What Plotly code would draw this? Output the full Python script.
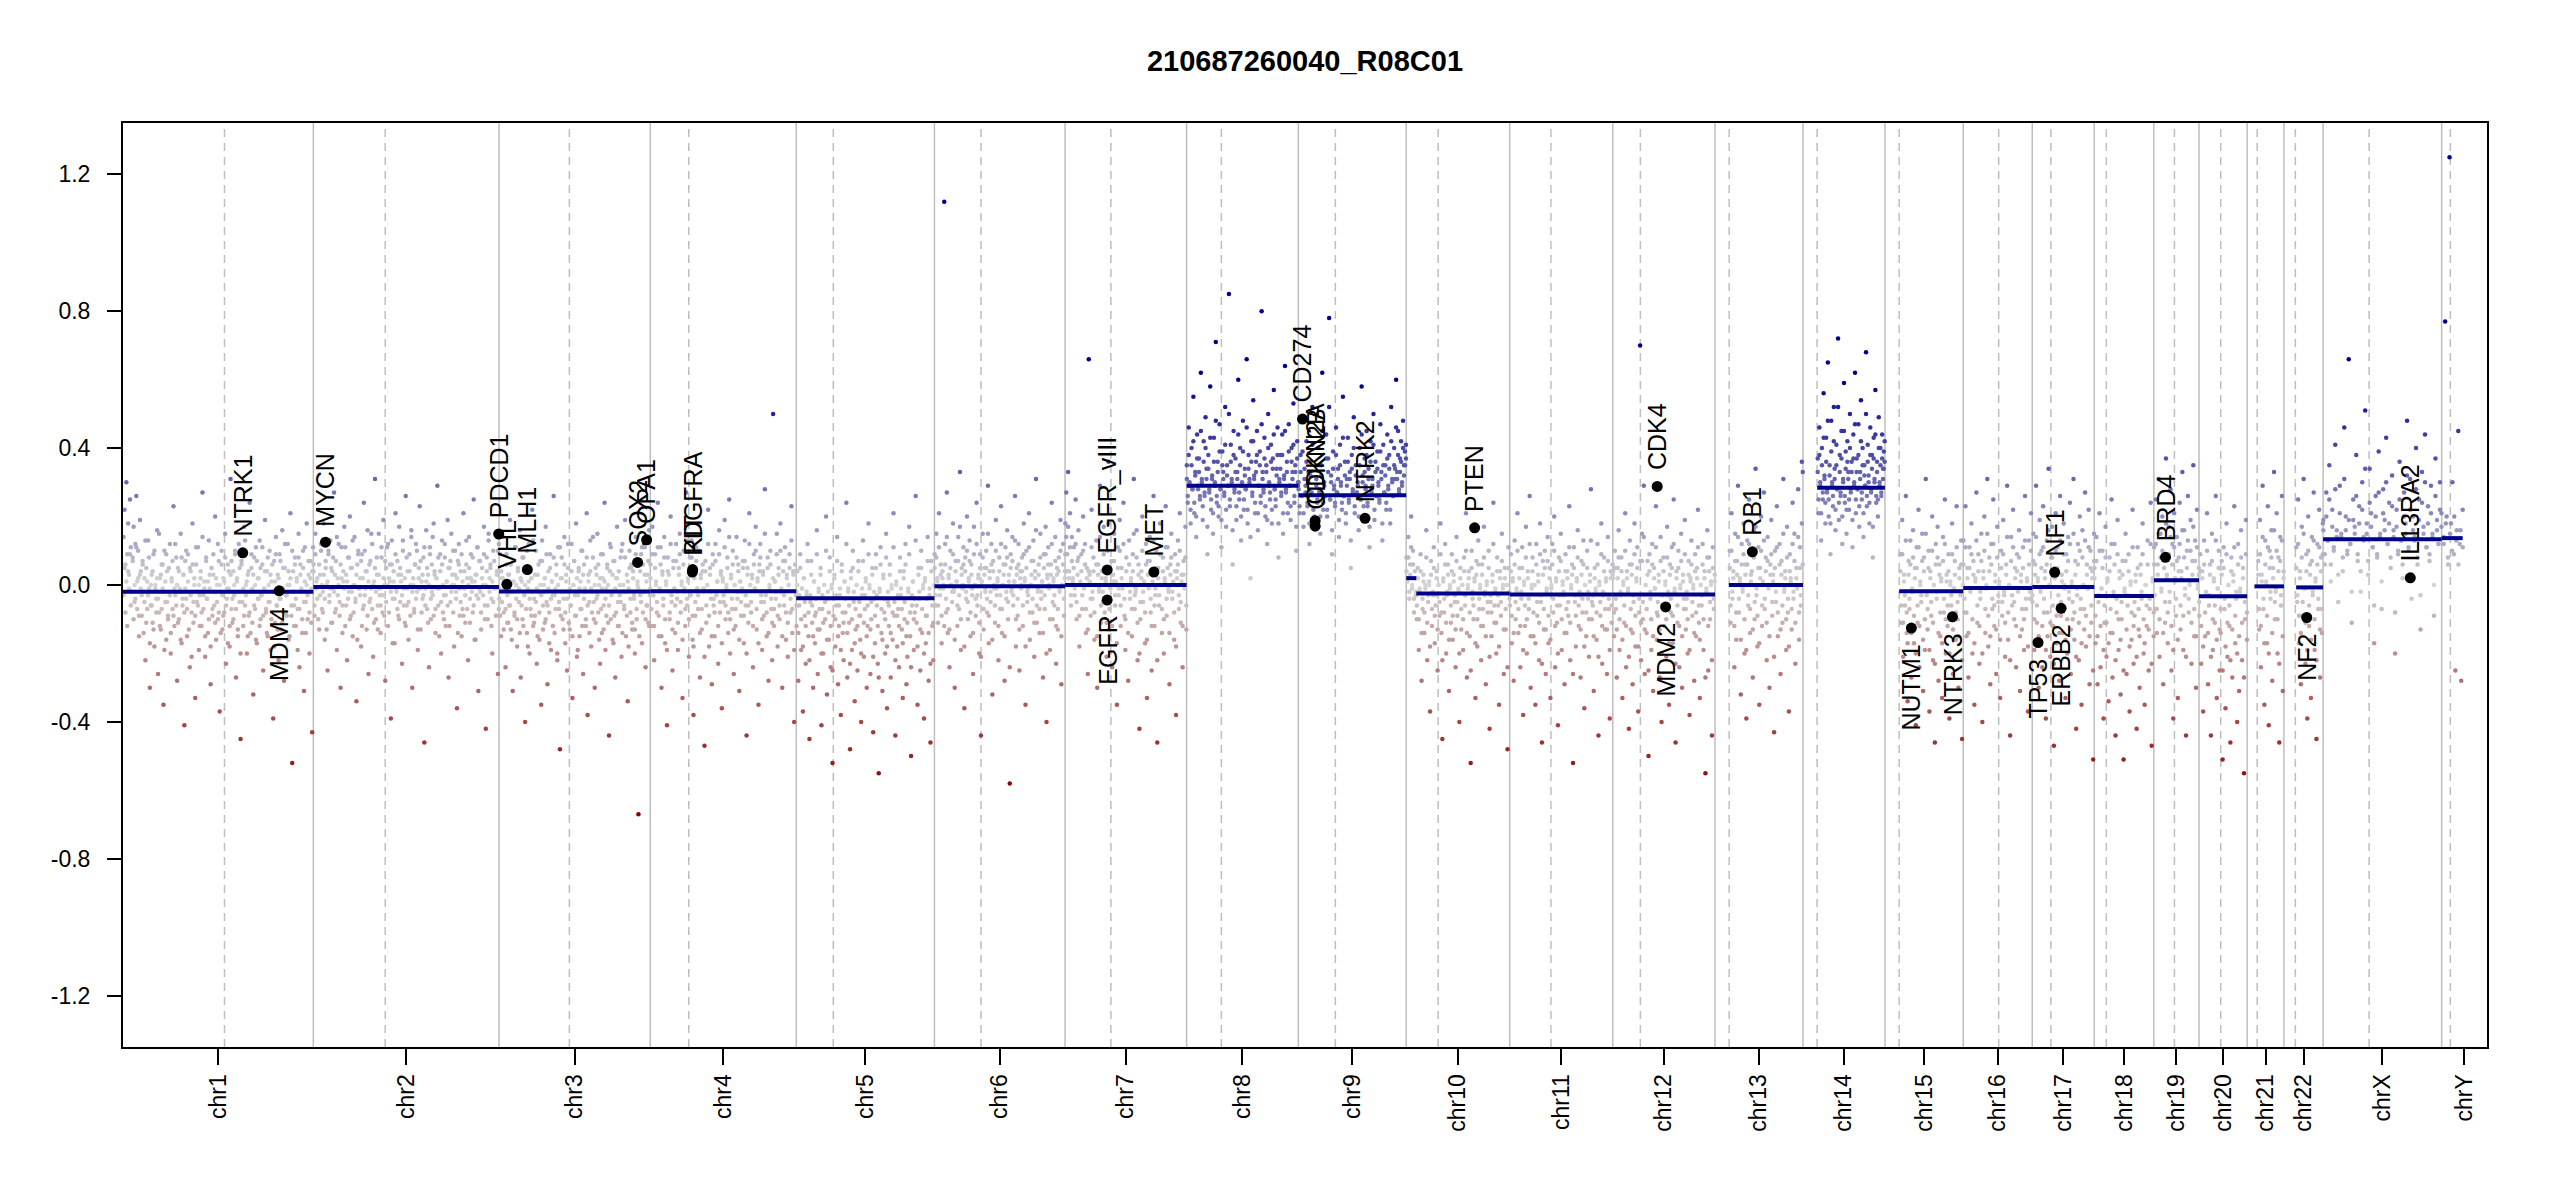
import numpy as np
import plotly.graph_objects as go

# Copy number plot of sample 210687260040_R08C01 (conumee-style genome plot)

chroms = ["chr1", "chr2", "chr3", "chr4", "chr5", "chr6", "chr7", "chr8", "chr9", "chr10",
          "chr11", "chr12", "chr13", "chr14", "chr15", "chr16", "chr17", "chr18", "chr19",
          "chr20", "chr21", "chr22", "chrX", "chrY"]

# chromosome lengths and centromere positions (Mb)
chrom_len = [249.25, 243.20, 198.02, 191.15, 180.92, 171.12, 159.14, 146.36, 141.21, 135.53,
             135.01, 133.85, 115.17, 107.35, 102.53, 90.35, 81.20, 78.08, 59.13,
             63.03, 48.13, 51.30, 155.27, 59.37]
centromere = [132.9, 94.1, 92.1, 50.4, 48.5, 61.0, 60.0, 45.5, 48.4, 41.8,
              54.0, 36.1, 18.5, 18.5, 18.6, 46.4, 24.4, 15.8, 26.9,
              28.4, 13.1, 15.0, 60.3, 11.4]

# region of each chromosome covered by bins (Mb)
bin_start = [0.8, 0.3, 0.3, 0.3, 0.3, 0.3, 0.3, 0.3, 0.3, 0.3,
             0.3, 0.3, 19.2, 19.3, 20.2, 0.3, 0.3, 0.3, 0.3,
             0.3, 14.5, 16.2, 0.3, 2.7]
bin_end = [248.9, 242.9, 197.7, 190.8, 180.6, 170.8, 158.8, 146.0, 140.9, 135.2,
           134.7, 133.5, 114.9, 107.0, 102.2, 90.0, 80.9, 77.8, 58.8,
           62.7, 47.8, 51.0, 155.0, 27.5]

# bin values (log2 ratio x 100), ordered along each chromosome -- wide spread bins
bins_chr1 = [14, 22, 6, 30, 9, 18, 3, 25, 11, -2, 8, 17, -5, 12, 26, 1, 10, -9, 19, 4,
             -3, 7, -14, 2, -22, 5, -7, 13, -1, -30, -6, 3, -11, 9, -18, 0, -4, 16, -26, -8,
             2, -13, 6, -1, -35, 10, -5, -16, 4, -9, -2, 12, -20, 1, -7, 23, -12, -3, 8, -28,
             5, -10, -1, 15, -17, -6, 3, -41, 7, -4, -15, 9, -2, -24, 4, -8, 18, -11, 0, -33,
             6, -5, 11, -19, -3, 2, -12, 27, -7, 1, -21, 8, -4, -14, 13, -1, -29, 5, -9, 3,
             -6, 20, -16, 0, -10, 7, -37, -2, 10, -13, 2, -8, 15, -23, -4, 6, -1, -18, 31, -7,
             -11, 4, -3, 9, -27, 1, -15, 12, -5, -45, 7, -2, -12, 17, -6, 0, -20, 3, -9, 24,
             -14, 5, -1, -32, 8, -7, 11, -17, 2, -4, 13, -10, -3, 6, -25, -1, 19, -8, 4, -15,
             -5, 10, -19, 1, -2, -39, 7, -11, 14, -6, 3, -22, 9, -4, -13, 16, -1, -28, 5, -8,
             -3, 12, -16, 0, 21, -9, -52, 4, -6, 8, -12, 2, -7, 15, -24, 6, -2, -14, 10, -31,
             1, -5, 18, -10, 3, -20, 7, -1, -43, 11]
bins_chr2 = [6, -9, 15, 1, -4, 22, -13, 3, 10, -7, -2, 18, -16, 5, 0, -25, 9, -3, 13, -11,
             4, -1, 27, -8, 7, -19, 2, 12, -5, -30, 11, -6, 1, 17, -12, 3, -22, 8, -2, 20,
             -9, 5, -15, 0, 14, -4, -34, 6, 10, -1, 2, -18, 9, -7, 24, -3, 4, -13, 16, -26,
             -5, 7, -1, 12, -21, 1, 31, -10, 3, -6, 15, -3, -14, 8, -8, 19, 0, -28, 5, 11,
             -12, 2, 6, -39, 13, -4, 1, -17, 21, -2, 7, -9, 17, -5, 3, -23, 10, -1, -11, 26,
             -6, 4, -16, 9, 0, 14, -30, 2, -8, 6, 12, -2, -19, 5, 23, -13, 1, -4, 8, -46,
             -1, 16, -7, 3, -24, 11, -10, 6, -3, 18, 4, -14, 2, 29, -6, -1, 9, -20, 13, -8,
             -3, 8, -12, 1, 19, -27, 5, -5, 15, 0, 10, -18, 3, -2, -36, 7, 12, -9, 4, -15,
             -7, 21, -1, -11, 6, 2, -22, 14, -4, 9, 1, -8, 25, -16, 3, -3, 11, -31, 7, -2,
             -13, 5, 0, 17, -6, -42, 8, -10, 13, 2, 6, -4, -20, 10, -1, 15, -9, 4, -26, 12]
bins_chr3 = [-4, 9, -15, 2, 14, -8, -1, -24, 6, -11, 3, -6, 19, -13, -2, -31, 7, -9, 11, 0,
             -18, 4, -5, 16, -27, 1, -10, 8, -3, -40, 5, -14, -1, 12, -20, -7, 2, 22, -12, -4,
             -9, 10, -23, 3, -2, -16, 7, -35, 13, -6, 0, -11, 17, -5, -29, 4, -8, 9, -19, 1,
             -3, 26, -14, -1, 6, -22, 11, -7, -48, 2, 8, -10, -4, 14, -17, 3, -25, 5, -2, -13,
             -6, 12, -33, 0, 7, -9, 18, -21, -3, 4, -15, 1, -7, 10, -26, 6, -1, -12, 21, -38,
             3, -5, 13, -18, -2, 8, -10, -30, 5, -4, 15, -8, 0, -23, 9, -14, 2, -6, 24, -19,
             -1, 6, -11, -44, 4, 11, -3, -16, 7, -9, -27, 2, 17, -5, -12, 0, 8, -21, 12, -2,
             -7, 19, -15, 3, -34, -1, 10, -8, 5, -13, 4, -4, -20, 14, -10, 1, -67, 7, -3, 9,
             -17, 6, -2, 11, -24, -6, 3, -11, 16, -1]
bins_chr4 = [6, -12, 17, -3, -22, 9, 1, -8, 24, -15, -2, 11, -30, 4, -6, 14, -17, 0, -41, 8,
             3, -10, 20, -5, -25, 7, -1, -14, 12, -4, -19, 5, 15, -8, 1, -33, 10, -2, -12, 27,
             -6, 2, -21, 8, -3, 13, -16, -38, 4, -9, 11, -1, -7, 18, -27, 3, -13, 6, -2, -47,
             7, -11, 0, 22, -18, 5, -4, -29, 9, -6, -15, 12, -3, 1, -23, 16, -8, 4, -36, 2,
             -5, 19, -10, -1, 8, -14, 25, -20, 3, -7, 10, -26, 0, -12, 14, -4, 6, -31, 1, -9,
             -2, 7, -17, 13, -6, -44, 5, -11, 21, 0, -8, 3, -24, 9, -1, 17, -13, 2, -35, 6,
             12, -5, -19, 4, -9, 28, -3, -15, 8, -28, -1, 10, -7, -22, 50, -12, 1, -4, 15, -18,
             5, -10, 18, -2, -30, 7, -6, 11, -16, 3, -21, 0, 9, -8, 23, -14, 4, -40, 6, -3]
bins_chr5 = [-12, 4, -28, -6, 9, -19, -1, -37, 2, -9, -23, -3, 12, -15, -45, -5, 7, -11, -30, 1,
             -17, -8, 16, -26, -2, -13, 5, -41, -7, -20, 0, -10, 20, -32, -4, -16, 8, -24, -1, -52,
             -9, 3, -18, -6, 14, -29, -12, -3, -38, 6, -14, -22, 1, -8, 24, -27, -2, -11, -48, 4,
             -19, 10, -5, -34, -13, 0, -25, 7, -9, -16, -40, -3, 13, -21, -7, 2, -30, -12, 18, -1,
             -26, -10, 5, -43, -4, -17, 9, -6, -23, -55, -2, 11, -14, -31, 3, -8, -20, 15, -36, -5,
             -12, 6, -27, -1, -16, 21, -9, -44, 0, -18, -7, -24, 8, -3, -13, -33, 4, -10, 12, -29,
             -21, -2, 17, -15, -50, -6, 1, -19, -8, 26, -11, -35, 5, -4, -25, 10, -14, -1, -39, 2,
             -17, -9, 14, -28, -3, -46, 7, -12, -22, 0]
bins_chr6 = [9, -6, 15, 2, -11, 21, -3, 6, -17, 4, -1, 112, 12, -8, 27, -14, 3, -24, 10, 0,
             -5, 18, -2, -30, 7, 1, -12, 14, -7, 33, -19, 5, -1, 11, -36, 8, -4, 20, -10, 2,
             13, -15, 6, -3, -26, 17, 0, -9, 24, -6, 3, -20, 9, -44, 1, 15, -13, 5, -2, 10,
             -8, 29, -17, 4, -5, 12, -32, 7, -1, -11, 19, -3, 2, -22, 8, -7, 23, -14, 0, 6,
             -28, 11, -4, 16, -10, 3, -58, 9, -2, 14, -6, 1, 26, -18, 5, -9, 12, -25, 4, -1,
             8, -12, 18, 2, -35, 10, -5, -3, 21, -16, 0, 7, -8, 13, -21, 4, 31, -11, -2, 6,
             -14, 15, -4, 1, -27, 9, -7, 17, -40, 3, 11, -1, -19, 6, 24, -10, 2, -6, 14, -23,
             5, -13, 8, -2, 19, -29, 0, 12, -9, 4]
bins_chr7 = [18, 27, 9, 33, 4, 21, -6, 14, 2, 11, -3, 25, -10, 7, 16, -18, 1, 9, -7, 20,
             -1, 12, -14, 5, -26, 66, 3, -9, 22, -4, 8, -16, 0, 13, -30, 6, -2, 29, -11, 4,
             -5, 17, -8, 2, -21, 10, 36, -13, -1, 7, -24, 3, 15, -6, 1, -35, 11, -3, 19, -12,
             5, -1, 24, -9, -19, 8, 0, -28, 13, -4, 2, -15, 9, 31, -7, -2, 16, -22, 6, -42,
             -10, 4, 20, -5, 1, -17, 12, -33, 7, -1, 14, -8, -25, 3, 26, -12, -3, 10, -46, 5,
             -6, 18, 0, -14, 8, -20, 2, 23, -9, 11, -2, -29, 6, 15, -4, 1, -16, 9, -38, 4,
             13, -7, 21, -11, 3, -24, 7, -1, 17, -13]
bins_chr8 = [35, 24, 46, 30, 18, 40, 28, 55, 21, 33, 14, 44, 29, 37, 25, 62, 31, 19, 42, 26,
             49, 34, 9, 38, 27, 58, 22, 32, 15, 43, 30, 71, 24, 36, 20, 47, 28, 11, 39, 33,
             26, 52, 17, 35, 29, 85, 23, 41, 31, 6, 45, 27, 37, 19, 33, 60, 25, 40, 13, 30,
             48, 22, 34, 28, 66, 18, 38, 31, 2, 42, 26, 54, 32, 21, 36, 45, 16, 29, 39, 24,
             80, 33, 27, 43, 20, 35, 12, 50, 30, 25, 41, 18, 37, 57, 28, 23, 34, 46, 8, 31,
             38, 26, 44, 15, 32, 64, 27, 36, 21, 47, 29, 19, 40, 33, 53, 24, 35, 10, 42, 30]
bins_chr9 = [30, 21, 38, 26, 48, 17, 34, 29, 42, 23, 33, 12, 36, 27, 52, 19, 18, 17, 31, 24,
             40, 28, 15, 35, 62, 22, 30, 26, 44, 20, 37, 78, 25, 32, 9, 39, 29, 23, 46, 27,
             34, 14, 41, 30, 22, 55, 26, 36, 18, 31, 43, 24, 33, 5, 38, 28, 49, 21, 35, 27,
             30, 16, 40, 25, 58, 32, 20, 37, 29, 45, 23, 34, 11, 42, 28, 31, 50, 19, 36, 26,
             39, 30, 24, 47, 33, 13, 41, 27, 35, 22, 44, 29, 38, 18, 52, 31, 26, 40, 34, 60,
             33, 45, 28, 37, 42, 30, 48, 35, 39, 41]
bins_chr10 = [8, 2, 14, -4, 6, 20, -1, 10, -8, 4, -3, -10, 5, -19, -2, 9, -28, -7, 3, -14,
              -1, 16, -22, -5, 1, -37, 7, -12, -3, 11, -17, -6, 4, -25, 0, -9, 18, -14, -45, 2,
              -8, 12, -20, -3, 6, -31, -1, -11, 9, -16, 3, -5, -24, 14, -9, -2, -40, 5, -13, 0,
              -19, 8, -6, 21, -27, -1, 4, -15, -52, 10, -4, -10, 2, -33, 7, -18, 13, -7, -1, -22,
              6, -12, 17, -3, -29, 1, -8, 10, -42, -5, -15, 3, 24, -11, -2, -20, 8, -6, -35, 4,
              -9, 15, -1, -26, 5, -13, 0, -48, 11, -4]
bins_chr11 = [-6, 9, -17, 2, -28, 13, -10, -2, 21, -14, 5, -24, -4, 11, -38, 1, -12, 17, -20, 4,
              -7, 26, -30, -1, 8, -15, 0, -35, 12, -9, 3, -22, 18, -5, -46, 7, -13, 10, -26, -2,
              14, -17, 5, -33, -1, 12, -8, 20, -24, 2, -11, -41, 8, -6, 15, -19, 1, -3, -29, 9,
              -14, 4, -9, 23, -22, -1, 6, -52, 11, -5, -18, 2, 16, -12, -3, -27, 7, -8, 13, -36,
              0, -15, 10, -4, -21, 3, 28, -10, -6, -31, 5, -2, -16, 12, -44, 1, -9, 18, -23, -3,
              8, -13, 2, -26, 14, -7, -39, 4, -11, 6]
bins_chr12 = [4, -15, 10, -7, -27, 5, 16, -19, -3, 8, -33, 1, -11, 21, -24, 4, -2, -42, 13, -13,
              6, -29, -5, 18, -18, 2, 11, -37, -8, 70, -22, 15, -10, 29, -26, 0, -14, 7, -50, 9,
              -4, -19, 12, -31, 5, -1, 23, -16, -9, 3, -27, 14, -40, -6, 8, -12, 1, -21, 17, -3,
              -35, 6, -8, 11, -17, 25, -2, -46, 4, -11, 10, -24, -1, 15, -30, 3, -7, 19, -13, -4,
              -20, 7, -38, 2, 13, -9, -1, -28, 9, -15, 5, 22, -11, -33, 0, -6, 12, -19, 4, -55,
              -2, 16, -25, 8, -10, 1, -44, 11, -7, 3]
bins_chr13 = [10, -11, 21, -4, 4, -24, 15, -16, 7, 29, -8, 2, -32, 12, -2, 18, -20, 6, -39, 13,
              -6, 25, -14, 3, 9, -27, 16, -10, 34, -3, -18, 11, -35, 5, 20, -12, 1, 27, -7, 8,
              -22, 14, -1, -30, 6, 19, -9, 3, -43, 10, -5, 23, -15, 0, 12, -26, 7, -11, 31, -2,
              4, -19, 17, -8, -37, 9, 2, -13, 24, -4, 15, -23, 5, -1, 28, -16, 11, -6, 36, 33]
bins_chr14 = [37, 21, 46, 29, 13, 40, 25, 56, 32, 18, 43, 27, 65, 20, 35, 9, 48, 30, 23, 52,
              34, 16, 41, 28, 72, 19, 38, 26, 45, 12, 31, 59, 24, 39, 15, 42, 33, 22, 50, 27,
              36, 11, 44, 30, 62, 21, 37, 28, 47, 17, 33, 54, 25, 40, 14, 35, 29, 68, 23, 41,
              32, 18, 46, 27, 38, 8, 43, 31, 57, 24, 36, 20, 49, 30, 40, 26, 44, 34, 39, 42]
bins_chr15 = [9, -11, 19, -21, 3, -6, 26, -14, -34, 7, -7, 13, -27, -2, 16, -17, 5, -41, 11, -11,
              22, -24, 1, -5, 15, -31, 8, -19, 31, -3, -13, 10, -37, 4, -9, 20, -22, 0, -46, 12,
              -4, 17, -28, 6, -15, 2, -33, 14, -8, 25, -20, 3, -12, 9, -39, 1, -6, 18, -26, -1,
              7, -16, 23, -10, -30, 5, -3, 13, -45, 0]
bins_chr16 = [13, -8, 23, -15, 5, -27, 11, -2, 18, -20, 7, -35, 2, 27, -11, 9, -23, -4, 15, -40,
              4, 20, -14, -1, 31, -18, 8, -29, 12, -7, 25, -12, 3, -26, 17, -5, 1, -33, 10, -9,
              19, -3, -21, 6, 29, -16, 0, -44, 14, -6, 22, -10, 5, -24, 9, -2, 16, -31, 3, -13,
              11, -19, 26, -7, 2, -37, 13, -4, 21, -1]
bins_chr17 = [-5, 15, -19, 6, 29, -11, 2, -30, 19, -2, 10, -24, 23, -8, 4, -39, 13, -15, 34, 0,
              -21, 8, 17, -12, -47, 5, 21, -17, 11, -6, -28, 26, -9, 3, -14, 18, -1, -33, 9, -20,
              14, -4, 24, -26, 1, -10, 31, -16, 7, -42, -3, 12, -22, 20, -7, -35, 16, 0, -13, 27,
              -18, 6, -1, 22, -29, 10, -11, 4, -51, 15]
bins_chr18 = [5, -17, 14, -29, -5, 21, -24, -1, 10, -39, -11, 17, -21, 2, -34, 8, -14, 25, -27, -3,
              12, -44, -8, 19, -19, 4, -32, -10, 7, -51, -2, 15, -26, -6, 9, -37, 1, -16, 22, -23,
              -9, 3, -42, 11, -13, -30, 6, -4, 18, -20, -35, 0, -12, 13, -25, -7, 24, -47, 2, -15]
bins_chr19 = [11, -7, 25, -14, 6, 31, -21, 15, -2, 20, -29, 9, -11, 37, 3, -17, 17, -5, 28, -25,
              12, -39, 21, 2, -9, 14, -33, 8, 24, -13, 4, 33, -19, 16, -3, -44, 10, 26, -8, 1,
              19, -23, 7, 35, -15, 13, -30, 22, -1, 5]
bins_chr20 = [-9, 9, -23, 4, -37, 13, -15, -3, 21, -29, -6, 6, -44, 15, -19, 2, -11, 26, -33, -1,
              10, -25, -14, 7, -51, 11, -7, -36, 18, -21, 0, -12, -46, 8, -27, 3, 23, -17, -4, -40,
              12, -31, -2, 16, -22, 5, -55, -10, 19, -16]
bins_chr21 = [7, -13, 19, -24, 3, 29, -7, -35, 13, 1, -17, 23, -41, 10, -4, 16, -28, 5, 33, -10,
              -2, 21, -20, 8, -46, 14, -6, 26, -31, 4]
bins_chr22 = [11, -5, 25, -17, 4, -29, 17, -9, 31, -1, -23, 9, -39, 20, -12, 6, -33, 14, -3, 27,
              -19, 2, -45, 12, -7, 22, -27, 8, -14, 18]
bins_chrX = [19, 6, 27, 13, 35, 1, 22, 10, 41, 16, -5, 29, 15, 4, 46, 20, 9, 66, 12, -11,
             25, 17, 38, 7, 23, -2, 30, 14, 51, 18, 3, 34, 21, 11, -17, 26, 8, 39, 15, -7,
             28, 19, 43, 12, 24, 5, 32, 16, -20, 22, 9, 36, 13, 2, 27, 18, 48, 10, 31, -4,
             20, 14, 40, 6, 25, -13, 33, 17, 44, 11, 23, 7, 29, 15, -9, 37, 19, 12, 30, 21]
bins_chrY = [14, 77, 20, 6, 125, 18, 30, 9, -25, 16, 45, 12, -28, 22]

# dense core bins close to the segment level (log2 ratio x 100)
core_chr1 = [-3, 5, -8, 1, -12, 4, -1, 9, -6, -2, 7, -10, 0, -4, 11, -7, 2, -15, 3, -1,
             -9, 6, -2, -5, 13, -11, 1, -3, 8, -17, 0, -6, 4, -13, 10, -1, -8, 2, -4, 15,
             -12, 3, -7, 6, -2, -19, 1, 9, -5, -10, 5, -3, -14, 2, 7, -9, -1, 12, -6, 0,
             -11, 4, -2, -16, 8, -4, 3, -8, -1, 10, -7, 1, -13, 5, -3, -21, 6, -5, 2, -9,
             11, -2, -6, 0, -12, 4, -8, 14, -3, -1, -15, 7, -4, 1, -10, 3, -18, 5, -7, 9,
             -2, -11, 2, -5, 12, -8, 0, -14, 6, -3, -9, 1, 8, -6, -1, -17, 4, -12, 3, 7,
             -4, -10, 0, 10, -7, 2, -13, -2, 5, -20, 6, -5, -1, -9, 13, -3, 1, -15, 4, -8,
             -2, 9, -11, 3, -6, 0, -16, 7, -4, 2, -12, 5, -3, 11, -9, -1, 4, -7, -14, 8,
             0, -5, 3, -10, 6, -2, -18, 1, 9, -6, -13, 2, -4, 7, -1, -11, 5, -8, 12, -3,
             -9, 0, 4, -15, 2, -6, 10, -2, -12, 6, -4, 1, -19, 8, -7, 3, -1, -10, 5, -5,
             11, -14, 0, -3, 7, -8, 2, -11, 4, -1]
core_chr2 = [4, -6, 9, -1, 2, -10, 6, -3, 12, 0, -8, 3, -4, 7, -13, 1, 10, -5, -1, 5,
             -11, 8, -2, 3, -7, 14, -3, 0, -9, 6, 2, -14, 4, -1, 11, -6, 1, -4, 8, -10,
             5, -2, 13, -8, 0, -5, 3, -16, 9, -1, -3, 7, -12, 2, -6, 10, -1, 4, -9, 1,
             6, -4, 15, -7, 0, -11, 5, -2, 8, -13, 3, -1, -6, 11, -3, 2, -9, 7, -5, 0,
             12, -8, 1, -2, 6, -17, 4, -4, 9, -1, -7, 3, -10, 5, 1, -3, 13, -6, 2, -12,
             8, -1, -5, 4, -9, 16, -2, 0, -7, 6, -4, 10, -13, 2, -1, 7, -8, 3, -3, 11,
             -6, 1, 5, -11, 0, 9, -4, -2, 14, -9, 3, -7, 2, -1, 8, -15, 4, -5, 6, 0,
             -10, 12, -3, 1, -6, 5, -12, 7, -2, 3, -8, 0, 10, -4, 2, -14, 6, -1, -5, 9,
             1, -9, 4, -3, 13, -7, 0, 5, -11, 2, -2, 8, -6, 1, -16, 3, 11, -4, -1, 7,
             -8, 2, -3, 9, -10, 0, 4, -6, 15, -2, 5, -12, 1, -5, 7, -1, -9, 3, 10, -7]
core_chr3 = [-1, -9, 4, -5, 2, -13, 0, -7, 9, -3, -11, 3, -6, 6, -16, -2, 1, -8, 11, -4,
             -10, 5, -1, -14, 2, -6, 8, -12, -3, 0, -7, 10, -18, 1, -4, 4, -9, -2, 13, -11,
             3, -5, -1, -15, 6, -8, 0, -3, 7, -13, -2, 2, -10, 9, -6, -1, -17, 5, -4, 1,
             -12, 8, -3, -7, 3, -20, 0, -5, 11, -9, 2, -2, -13, 6, -8, 1, -4, 12, -11, -1,
             -6, 4, -15, 0, 7, -3, -9, 2, -19, 5, -1, -7, 10, -12, 3, -4, -2, -10, 8, -6,
             1, -14, 4, -1, -8, 14, -5, 0, -11, 3, -3, 6, -16, 2, -7, -1, 9, -13, 1, -4,
             -9, 5, 0, -6, 12, -10, -2, 3, -17, 7, -1, -8, 2, -12, 4, -3, -5, 10, -14, 0,
             -6, 8, -2, -9, 1, -18, 5, -4, 6, -11, 2, -3, -13, 9, -7, 0, -1, -15, 4, -5,
             11, -8, -2, 3, -10, 1, -6, 7, -12, -3]
core_chr4 = [2, -7, 9, -3, -12, 5, 0, -5, 11, -9, -1, 6, -15, 3, -4, 8, -10, 1, -19, 4,
             -2, -8, 12, -3, -13, 5, -1, -6, 7, -2, -11, 3, 9, -5, 0, -16, 6, -1, -7, 13,
             -4, 1, -10, 5, -2, 8, -9, -18, 2, -5, 7, -1, -3, 10, -14, 2, -7, 4, -1, -21,
             4, -6, 0, 12, -9, 3, -2, -15, 6, -4, -8, 7, -2, 1, -12, 9, -5, 3, -17, 1,
             -3, 11, -6, 0, 5, -8, 14, -10, 2, -4, 6, -13, 0, -7, 8, -2, 4, -16, 1, -5,
             -1, 5, -9, 7, -3, -20, 3, -6, 12, 0, -5, 2, -12, 6, -1, 10, -7, 1, -17, 4,
             8, -3, -10, 3, -5, 15, -2, -8, 5, -14, 0, 6, -4, -11, 2, -7, 1, -2, 9, -9,
             3, -6, 10, -1, -15, 4, -3, 7, -8, 2, -11, 0, 5, -4, 13, -7, 3, -19, 4, -2]
core_chr5 = [-6, 0, -14, -3, 5, -10, -1, -18, 2, -5, -12, -2, 7, -8, -22, -3, 3, -6, -15, 1,
             -9, -4, 9, -13, -1, -7, 3, -20, -3, -11, 0, -5, 10, -16, -2, -8, 4, -12, 0, -25,
             -4, 2, -10, -3, 7, -15, -6, -1, -19, 4, -8, -11, 1, -4, 12, -14, -1, -6, -23, 2,
             -10, 5, -2, -17, -7, 0, -12, 4, -5, -9, -20, -1, 7, -11, -3, 1, -15, -6, 9, 0,
             -13, -5, 3, -21, -2, -9, 5, -3, -12, -27, -1, 6, -7, -16, 2, -4, -10, 8, -18, -2,
             -6, 3, -14, 0, -8, 11, -5, -22, 1, -9, -3, -12, 4, -1, -7, -17, 2, -5, 6, -15,
             -11, -1, 9, -8, -24, -3, 1, -10, -4, 13, -6, -18, 3, -2, -13, 5, -7, 0, -20, 1,
             -9, -4, 7, -14, -1, -23, 4, -6, -11, 0]
core_chr6 = [5, -3, 8, 1, -6, 11, -1, 3, -9, 2, 0, -12, 6, -4, 14, -7, 2, -13, 5, 0,
             -2, 9, -1, -16, 4, 1, -6, 7, -3, 17, -10, 3, 0, 6, -18, 4, -2, 10, -5, 1,
             7, -8, 3, -1, -14, 9, 0, -4, 12, -3, 2, -11, 5, -21, 1, 8, -7, 3, -1, 5,
             -4, 15, -9, 2, -2, 6, -16, 4, 0, -6, 10, -1, 1, -12, 4, -3, 12, -7, 0, 3,
             -15, 6, -2, 8, -5, 1, -24, 5, -1, 7, -3, 1, 13, -10, 3, -4, 6, -13, 2, 0,
             4, -6, 9, 1, -18, 5, -2, -1, 11, -8, 0, 3, -4, 7, -11, 2, 16, -6, -1, 3,
             -7, 8, -2, 1, -14, 5, -3, 9, -20, 2, 6, 0, -10, 3, 12, -5, 1, -3, 7, -12,
             3, -7, 4, -1, 10, -15, 0, 6, -4, 2]
core_chr7 = [9, 14, 4, 17, 2, 11, -3, 7, 1, 5, -1, 12, -5, 3, 8, -9, 0, 4, -3, 10,
             0, 6, -7, 2, -13, 4, 1, -4, 11, -2, 4, -8, 0, 6, -15, 3, -1, 14, -6, 2,
             -2, 9, -4, 1, -11, 5, 18, -7, 0, 3, -12, 1, 7, -3, 0, -17, 5, -1, 10, -6,
             2, 0, 12, -4, -10, 4, 0, -14, 6, -2, 1, -7, 4, 15, -3, -1, 8, -11, 3, -20,
             -5, 2, 10, -2, 0, -8, 6, -16, 3, 0, 7, -4, -12, 1, 13, -6, -1, 5, -22, 2,
             -3, 9, 0, -7, 4, -10, 1, 11, -4, 5, -1, -14, 3, 8, -2, 0, -8, 4, -18, 2,
             6, -3, 10, -5, 1, -12, 3, 0, 8, -6]
core_chr8 = [31, 26, 38, 29, 22, 35, 28, 42, 24, 32, 20, 37, 28, 33, 26, 45, 30, 23, 36, 27,
             40, 31, 17, 34, 28, 43, 25, 31, 21, 36, 29, 48, 26, 33, 23, 39, 28, 19, 35, 31,
             27, 41, 22, 32, 29, 50, 25, 36, 30, 16, 38, 28, 33, 23, 31, 44, 27, 35, 20, 29,
             39, 25, 32, 28, 46, 22, 34, 30, 14, 36, 27, 42, 31, 24, 33, 38, 21, 29, 35, 26,
             47, 31, 28, 37, 23, 33, 19, 40, 29, 27, 36, 22, 34, 44, 28, 25, 32, 38, 18, 30,
             34, 27, 38, 21, 31, 45, 28, 33, 24, 39, 29, 23, 36, 31, 41, 26, 33, 17, 37, 29]
core_chr9 = [28, 23, 33, 26, 39, 21, 31, 27, 36, 24, 30, 18, 32, 27, 41, 22, 20, 19, 29, 25,
             35, 27, 20, 32, 45, 24, 29, 26, 37, 22, 33, 52, 25, 30, 16, 34, 28, 24, 38, 27,
             31, 19, 35, 29, 24, 43, 26, 32, 21, 29, 36, 25, 31, 13, 34, 27, 40, 23, 32, 27,
             29, 20, 35, 25, 44, 30, 23, 33, 28, 38, 24, 31, 17, 36, 27, 29, 41, 22, 33, 26,
             34, 29, 25, 39, 31, 18, 35, 27, 32, 24, 37, 28, 34, 22, 42, 30, 26, 35, 31, 46,
             31, 38, 27, 33, 36, 29, 40, 32, 35, 37]
core_chr10 = [4, 1, 8, -2, 3, 11, 0, 6, -4, 2, -2, -6, 2, -10, -1, 4, -14, -4, 1, -8,
              0, 8, -11, -3, 0, -18, 3, -7, -2, 5, -9, -3, 2, -13, 0, -5, 9, -8, -22, 1,
              -4, 6, -11, -2, 3, -16, 0, -6, 4, -9, 1, -3, -13, 7, -5, -1, -20, 2, -7, 0,
              -10, 4, -3, 10, -14, 0, 2, -8, -25, 5, -2, -6, 1, -17, 3, -10, 6, -4, 0, -12,
              3, -7, 8, -2, -15, 0, -5, 5, -21, -3, -8, 1, 12, -6, -1, -11, 4, -3, -18, 2,
              -5, 7, 0, -13, 2, -7, 0, -24, 5, -2]
core_chr11 = [-3, 4, -9, 1, -14, 6, -5, -1, 10, -7, 2, -12, -2, 5, -19, 0, -6, 8, -10, 2,
              -4, 12, -15, 0, 4, -8, 0, -17, 6, -5, 1, -11, 9, -3, -23, 3, -7, 5, -13, -1,
              7, -9, 2, -16, 0, 6, -4, 10, -12, 1, -6, -20, 4, -3, 7, -10, 0, -2, -14, 4,
              -7, 2, -5, 11, -11, 0, 3, -26, 5, -3, -9, 1, 8, -6, -2, -13, 3, -4, 6, -18,
              0, -8, 5, -2, -10, 1, 13, -5, -3, -15, 2, -1, -8, 6, -21, 0, -5, 9, -12, -2,
              4, -7, 1, -13, 7, -4, -19, 2, -6, 3]
core_chr12 = [2, -8, 5, -4, -13, 2, 8, -10, -2, 4, -16, 0, -6, 10, -12, 2, -1, -21, 6, -7,
              3, -14, -3, 9, -9, 1, 5, -18, -4, 7, -11, 7, -5, 14, -13, 0, -7, 3, -25, 4,
              -2, -10, 6, -15, 2, -1, 11, -8, -5, 1, -13, 7, -20, -3, 4, -6, 0, -10, 8, -2,
              -17, 3, -4, 5, -9, 12, -1, -23, 2, -6, 5, -12, 0, 7, -15, 1, -4, 9, -7, -2,
              -10, 3, -19, 1, 6, -5, 0, -14, 4, -8, 2, 11, -6, -16, 0, -3, 6, -10, 2, -27,
              -1, 8, -12, 4, -5, 0, -22, 5, -4, 1]
core_chr13 = [5, -6, 10, -2, 2, -12, 7, -8, 3, 14, -4, 1, -16, 6, -1, 9, -10, 3, -19, 6,
              -3, 12, -7, 1, 4, -13, 8, -5, 17, -1, -9, 5, -17, 2, 10, -6, 0, 13, -4, 4,
              -11, 7, 0, -15, 3, 9, -5, 1, -21, 5, -2, 11, -8, 0, 6, -13, 3, -6, 15, -1,
              2, -10, 8, -4, -18, 4, 1, -7, 12, -2, 7, -11, 2, 0, 14, -8, 5, -3, 18, 6]
core_chr14 = [33, 25, 38, 30, 21, 35, 27, 43, 31, 24, 36, 28, 48, 25, 32, 18, 39, 29, 26, 42,
              31, 22, 35, 28, 52, 24, 33, 27, 37, 20, 30, 45, 26, 34, 22, 36, 31, 25, 40, 28,
              33, 19, 37, 29, 47, 25, 33, 28, 38, 23, 31, 42, 27, 35, 21, 32, 29, 50, 26, 36,
              30, 24, 38, 28, 34, 17, 37, 30, 44, 26, 33, 25, 40, 29, 35, 27, 37, 31, 34, 36]
core_chr15 = [4, -6, 9, -11, 1, -3, 13, -8, -17, 3, -4, 6, -14, -1, 8, -9, 2, -20, 5, -6,
              11, -12, 0, -3, 7, -16, 4, -10, 15, -2, -7, 5, -19, 2, -5, 10, -11, 0, -23, 6,
              -2, 8, -14, 3, -8, 1, -17, 7, -4, 12, -10, 1, -6, 4, -20, 0, -3, 9, -13, -1,
              3, -8, 11, -5, -15, 2, -2, 6, -22, 0]
core_chr16 = [6, -4, 11, -8, 2, -14, 5, -1, 9, -10, 3, -17, 1, 13, -6, 4, -12, -2, 7, -20,
              2, 10, -7, 0, 15, -9, 4, -15, 6, -4, 12, -6, 1, -13, 8, -3, 0, -16, 5, -5,
              9, -2, -11, 3, 14, -8, 0, -22, 7, -3, 11, -5, 2, -12, 4, -1, 8, -15, 1, -7,
              5, -10, 13, -4, 1, -18, 6, -2, 10, 0]
core_chr17 = [-3, 7, -10, 3, 14, -6, 1, -15, 9, -1, 5, -12, 11, -4, 2, -19, 6, -8, 16, 0,
              -11, 4, 8, -6, -23, 2, 10, -9, 5, -3, -14, 13, -5, 1, -7, 9, 0, -16, 4, -10,
              7, -2, 12, -13, 0, -5, 15, -8, 3, -21, -1, 6, -11, 10, -4, -17, 8, 0, -7, 13,
              -9, 3, -1, 11, -15, 5, -6, 2, -25, 7]
core_chr18 = [2, -9, 7, -15, -3, 10, -12, -1, 5, -19, -6, 8, -11, 1, -17, 4, -7, 12, -14, -2,
              6, -22, -4, 9, -10, 2, -16, -5, 3, -25, -1, 7, -13, -3, 4, -18, 0, -8, 11, -12,
              -5, 1, -21, 5, -7, -15, 3, -2, 9, -10, -17, 0, -6, 6, -13, -4, 12, -23, 1, -8]
core_chr19 = [6, -3, 12, -7, 3, 15, -10, 8, -1, 10, -14, 5, -5, 18, 2, -8, 9, -2, 14, -12,
              6, -19, 11, 1, -4, 7, -16, 4, 12, -6, 2, 16, -9, 8, -1, -21, 5, 13, -4, 0,
              10, -11, 3, 17, -7, 7, -15, 11, 0, 3]
core_chr20 = [-5, 4, -12, 2, -18, 6, -8, -2, 10, -14, -3, 3, -21, 7, -10, 1, -6, 13, -16, -1,
              5, -13, -7, 3, -25, 5, -4, -18, 9, -11, 0, -6, -22, 4, -13, 1, 11, -9, -2, -20,
              6, -15, -1, 8, -11, 2, -27, -5, 9, -8]
core_chr21 = [3, -7, 9, -12, 1, 14, -4, -17, 6, 0, -9, 11, -20, 5, -2, 8, -14, 2, 16, -5,
              -1, 10, -10, 4, -23, 7, -3, 13, -15, 2]
core_chr22 = [5, -3, 12, -9, 2, -14, 8, -5, 15, -1, -11, 4, -19, 10, -6, 3, -16, 7, -2, 13,
              -10, 1, -22, 6, -4, 11, -13, 4, -7, 9]
core_chrX = [16, 9, 20, 13, 25, 6, 17, 11, 28, 14, 3, 21, 14, 8, 31, 16, 10, 19, 12, -2,
             19, 15, 26, 9, 18, 4, 22, 13, 34, 15, 7, 24, 17, 11, -6, 20, 9, 27, 14, 1,
             21, 16, 30, 12, 18, 8, 23, 14, -8, 17, 10, 25, 13, 6, 20, 15, 32, 11, 22, 3,
             16, 13, 28, 8, 19, -3, 24, 15, 30, 11, 18, 9, 21, 14, 0, 26, 16, 12, 22, 17]
core_chrY = [12, 18, 8, 15, 10, 20, 13, 6, 16, 11]

bins = [bins_chr1, bins_chr2, bins_chr3, bins_chr4, bins_chr5, bins_chr6, bins_chr7, bins_chr8,
        bins_chr9, bins_chr10, bins_chr11, bins_chr12, bins_chr13, bins_chr14, bins_chr15,
        bins_chr16, bins_chr17, bins_chr18, bins_chr19, bins_chr20, bins_chr21, bins_chr22,
        bins_chrX, bins_chrY]
core = [core_chr1, core_chr2, core_chr3, core_chr4, core_chr5, core_chr6, core_chr7, core_chr8,
        core_chr9, core_chr10, core_chr11, core_chr12, core_chr13, core_chr14, core_chr15,
        core_chr16, core_chr17, core_chr18, core_chr19, core_chr20, core_chr21, core_chr22,
        core_chrX, core_chrY]

# segments: chromosome index, start (Mb), end (Mb), mean
seg_chrom = [0, 1, 2, 3, 4, 5, 6, 7, 8, 9, 9, 10, 11, 12, 13, 14, 15, 16, 17, 18, 19, 20, 21, 22, 23]
seg_start = [0.0, 0.0, 0.0, 0.0, 0.0, 0.0, 0.0, 0.0, 0.0, 0.0, 13.2, 0.0, 0.0, 18.1, 18.6, 18.6,
             0.0, 0.0, 0.0, 0.0, 0.0, 9.5, 16.0, 0.0, 0.0]
seg_end = [249.25, 243.20, 198.02, 191.15, 180.92, 171.12, 159.14, 146.36, 141.21, 13.2, 135.53,
           135.01, 133.85, 115.17, 107.35, 102.53, 90.35, 81.20, 78.08, 59.13, 63.03, 48.13,
           51.30, 155.27, 27.5]
seg_mean = [-0.020, -0.006, -0.019, -0.018, -0.039, -0.004, 0.000, 0.290, 0.262, 0.020, -0.025,
            -0.028, -0.028, 0.000, 0.284, -0.018, -0.0085, -0.0056, -0.032, 0.014, -0.033,
            -0.004, -0.007, 0.134, 0.137]

# highlighted genes
gene_name = ["NTRK1", "MDM4", "MYCN", "PDCD1", "VHL", "MLH1", "SOX2", "OPA1", "PDGFRA", "KIT",
             "EGFR", "EGFR_vIII", "MET", "CD274", "CDKN2A", "CDKN2B", "NTRK2", "PTEN", "CDK4",
             "MDM2", "RB1", "NUTM1", "NTRK3", "TP53", "NF1", "ERBB2", "BRD4", "NF2", "IL13RA2"]
gene_chrom = [0, 0, 1, 1, 2, 2, 2, 2, 3, 3, 6, 6, 6, 8, 8, 8, 8, 9, 11, 11, 12, 14, 14, 16, 16,
              16, 18, 21, 22]
gene_pos = [156.8, 204.5, 15.9, 242.8, 10.2, 37.0, 181.4, 193.3, 55.1, 55.5, 55.1, 55.1, 116.3,
            5.4, 21.97, 22.0, 87.3, 89.6, 58.1, 69.2, 48.9, 34.6, 88.4, 7.6, 29.4, 37.8, 15.2,
            29.9, 114.2]
gene_value = [0.094, -0.017, 0.125, 0.149, 0.002, 0.045, 0.066, 0.132, 0.038, 0.045, -0.044,
              0.044, 0.038, 0.485, 0.188, 0.172, 0.195, 0.167, 0.288, -0.064, 0.097, -0.126,
              -0.093, -0.168, 0.037, -0.068, 0.081, -0.095, 0.021]

y_tick_vals = [-1.2, -0.8, -0.4, 0.0, 0.4, 0.8, 1.2]
y_tick_text = ["-1.2", "-0.8", "-0.4", "0.0", "0.4", "0.8", "1.2"]

FONT = "Liberation Sans, Arial, Helvetica, sans-serif"

offsets = np.concatenate([[0.0], np.cumsum(chrom_len)[:-1]])
total = float(np.sum(chrom_len))
mids = offsets + np.array(chrom_len) / 2

fig = go.Figure()

# Bins (both sets spread evenly over the covered part of each chromosome)
bx, by = [], []
for group in (bins, core):
    for i, vals in enumerate(group):
        pos = np.linspace(bin_start[i], bin_end[i], len(vals))
        bx.extend(offsets[i] + pos)
        by.extend(np.array(vals) / 100.0)

fig.add_trace(go.Scatter(
    x=bx, y=by, mode="markers", hoverinfo="skip", showlegend=False,
    marker=dict(size=4.5, color=by, cmin=-0.6, cmax=0.6,
                colorscale=[[0, "#8b0000"], [0.5, "#d3d3d3"], [1, "#00008b"]],
                line=dict(width=0)),
))

# Segments
sx, sy = [], []
for c, s, e, m in zip(seg_chrom, seg_start, seg_end, seg_mean):
    sx += [offsets[c] + s, offsets[c] + e, None]
    sy += [m, m, None]
fig.add_trace(go.Scatter(x=sx, y=sy, mode="lines", line=dict(color="#00008b", width=4),
                         hoverinfo="skip", showlegend=False))

# Genes
gx = [offsets[c] + p for c, p in zip(gene_chrom, gene_pos)]
fig.add_trace(go.Scatter(x=gx, y=gene_value, mode="markers", showlegend=False,
                         text=gene_name, marker=dict(size=11, color="black")))

for name, x, v in zip(gene_name, gx, gene_value):
    up = v >= 0
    fig.add_annotation(x=x, y=v, text=name, showarrow=False, textangle=-90,
                       xanchor="center", yanchor="bottom" if up else "top",
                       yshift=14 if up else -14,
                       font=dict(family=FONT, size=25, color="black"))

# Chromosome boundaries and centromeres
for off in offsets[1:]:
    fig.add_shape(type="line", x0=off, x1=off, y0=0, y1=1, xref="x", yref="paper",
                  line=dict(color="#bebebe", width=1.5), layer="below")
for off, cen in zip(offsets, centromere):
    fig.add_shape(type="line", x0=off + cen, x1=off + cen, y0=0, y1=1, xref="x", yref="paper",
                  line=dict(color="#bebebe", width=1.5, dash="8px,6px"), layer="below")

# page body keeps an 8px margin, so the figure is 8px smaller than the window
fig.update_layout(
    width=2542, height=1192,
    margin=dict(l=115, r=63, t=115, b=153),
    paper_bgcolor="white", plot_bgcolor="white",
    font=dict(family=FONT, size=23, color="black"),
    title=dict(text="210687260040_R08C01", x=0.5, xref="paper", xanchor="center",
               y=1 - 53 / 1192, yanchor="middle", yref="container",
               font=dict(family=FONT, size=29, color="black", weight="bold")),
)
fig.update_xaxes(
    range=[0, total], autorange=False, showgrid=False, zeroline=False,
    showline=True, mirror=True, linecolor="black", linewidth=2,
    ticks="outside", ticklen=16, tickwidth=2, tickcolor="black",
    tickvals=list(mids), ticktext=chroms, tickangle=-90, ticklabelstandoff=0,
    tickfont=dict(family=FONT, size=23), automargin=False,
)
fig.update_yaxes(
    range=[-1.35, 1.35], autorange=False, showgrid=False, zeroline=False,
    showline=True, mirror=True, linecolor="black", linewidth=2,
    ticks="outside", ticklen=14, tickwidth=2, tickcolor="black",
    tickvals=y_tick_vals, ticktext=y_tick_text, ticklabelstandoff=12,
    tickfont=dict(family=FONT, size=23), automargin=False,
)

fig.write_html("out.html")
